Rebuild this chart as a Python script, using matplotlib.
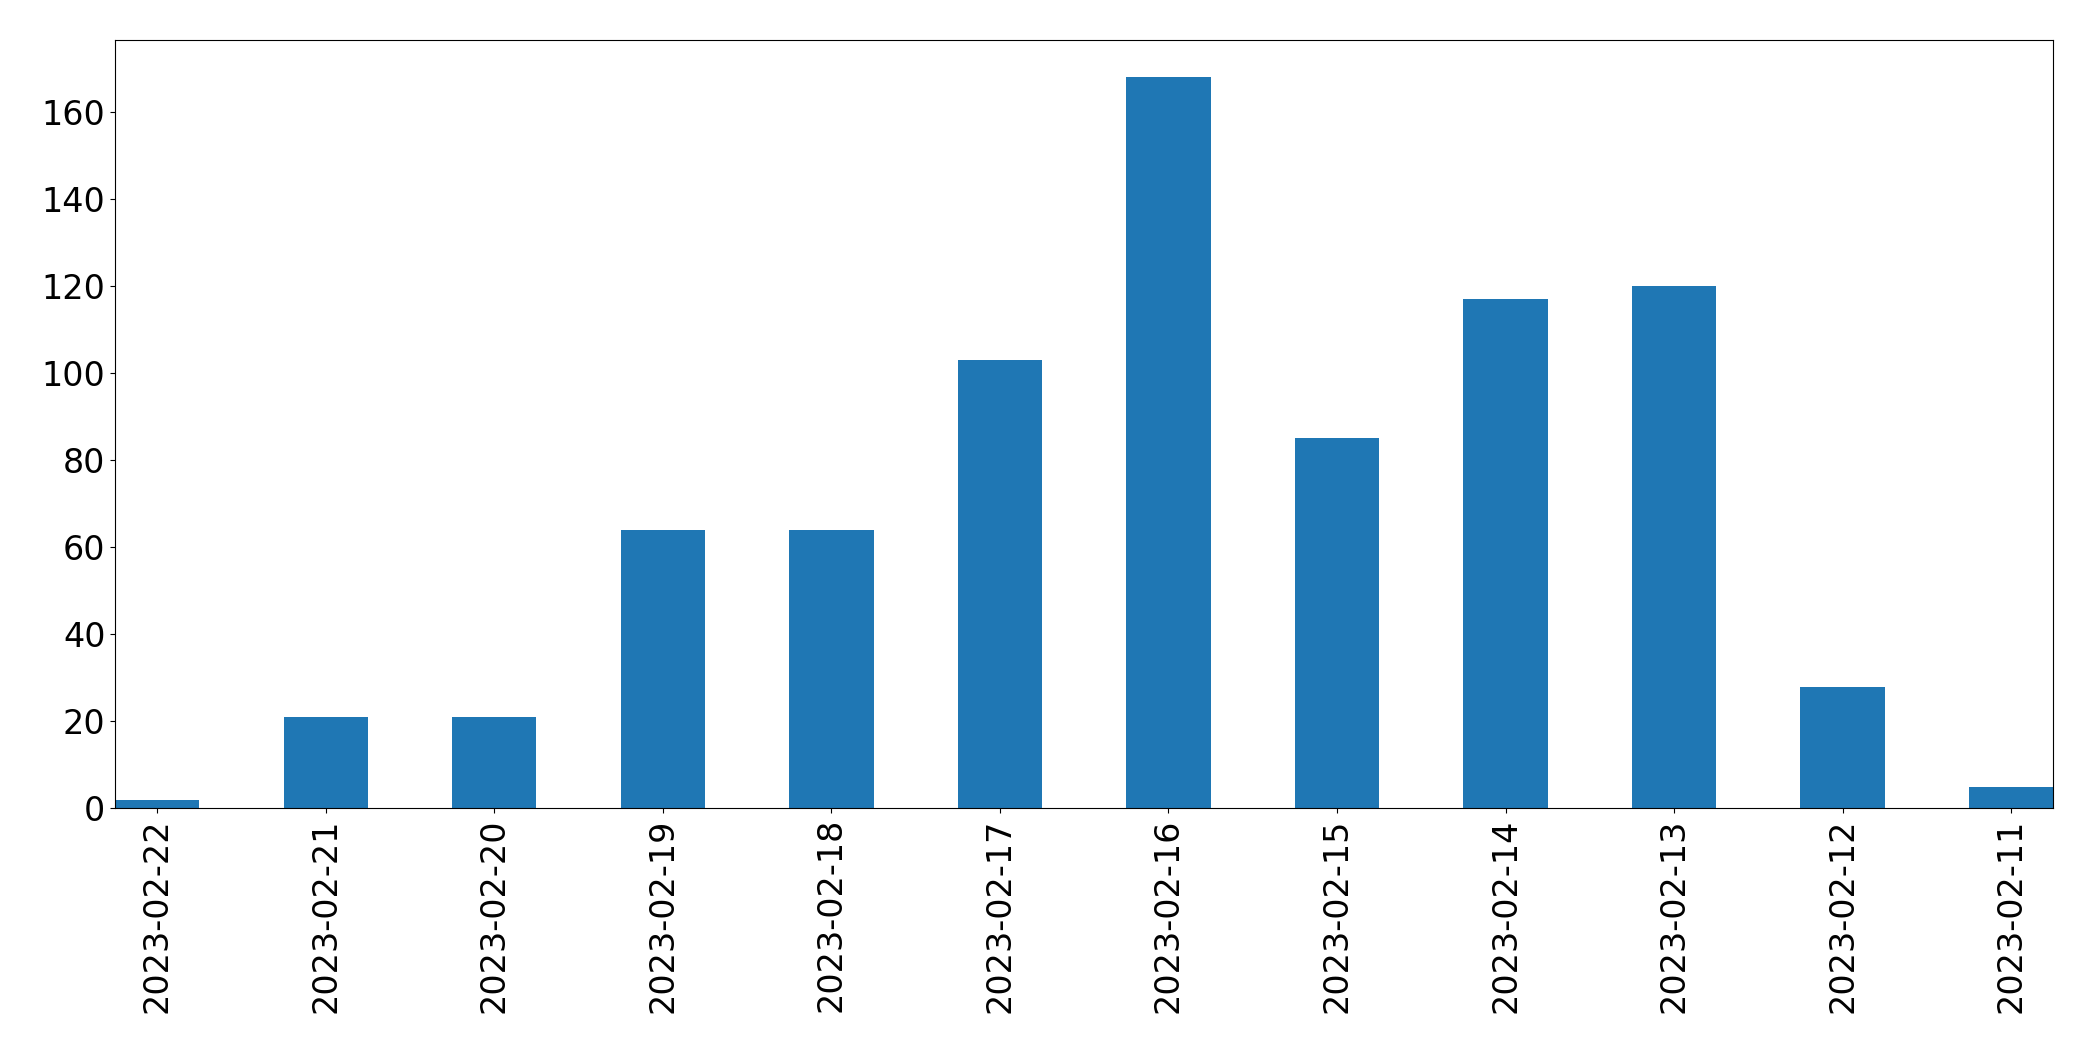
import matplotlib
matplotlib.use("Agg")
import matplotlib.pyplot as plt

dates = ["2023-02-22","2023-02-21","2023-02-20","2023-02-19","2023-02-18","2023-02-17",
         "2023-02-16","2023-02-15","2023-02-14","2023-02-13","2023-02-12","2023-02-11"]
counts = [2, 21, 21, 64, 64, 103, 168, 85, 117, 120, 28, 5]

fig = plt.figure(figsize=(20.93, 10.61), dpi=100)
ax = fig.add_axes([0.055, 0.238, 0.926, 0.724])
ax.bar(range(len(dates)), counts, width=0.5, color="#1f77b4")
ax.set_xticks(range(len(dates)))
ax.set_xticklabels(dates, rotation=90)
ax.set_xlim(-0.25, len(dates) - 0.75)
ax.set_ylim(0, 176.4)
ax.tick_params(labelsize=24)
fig.savefig("out.png", dpi=100)
